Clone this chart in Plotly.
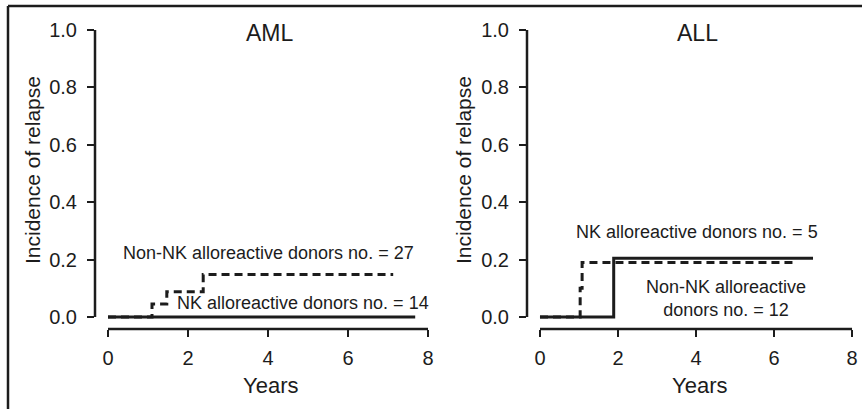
import plotly.graph_objects as go

# ---- data ----
aml_nk_x = [0, 7.68]
aml_nk_y = [0, 0]
aml_non_x = [0, 1.10, 1.47, 2.38, 7.13]
aml_non_y = [0, 0.045, 0.088, 0.148, 0.148]

all_nk_x = [0, 1.89, 7.0]
all_nk_y = [0, 0.205, 0.205]
all_non_x = [0, 1.03, 1.08, 6.52]
all_non_y = [0, 0.10, 0.19, 0.19]

x_ticks = [0, 2, 4, 6, 8]
y_ticks = [0.0, 0.2, 0.4, 0.6, 0.8, 1.0]
y_ticklabels = ["0.0", "0.2", "0.4", "0.6", "0.8", "1.0"]

W, H = 862, 409
INK = "#1c1c1c"
FONT = "Liberation Sans, Arial, Helvetica, sans-serif"
NARROW = "Liberation Sans Narrow, Liberation Sans, Arial, sans-serif"

def px(x):
    return x / W

def py(y):
    return 1 - y / H

fig = go.Figure()

solid = dict(color=INK, width=3)
dashed = dict(color=INK, width=3, dash="8px,5px")

fig.add_trace(go.Scatter(x=aml_nk_x, y=aml_nk_y, mode="lines", line=solid, line_shape="hv",
                         xaxis="x", yaxis="y", showlegend=False))
fig.add_trace(go.Scatter(x=aml_non_x, y=aml_non_y, mode="lines", line=dashed, line_shape="hv",
                         xaxis="x", yaxis="y", showlegend=False))
fig.add_trace(go.Scatter(x=all_nk_x, y=all_nk_y, mode="lines", line=solid, line_shape="hv",
                         xaxis="x2", yaxis="y2", showlegend=False))
fig.add_trace(go.Scatter(x=all_non_x, y=all_non_y, mode="lines", line=dashed, line_shape="hv",
                         xaxis="x2", yaxis="y2", showlegend=False))

ydom = [py(329), py(18)]
yrange = [-0.0418, 1.0418]

xcommon = dict(showline=False, showgrid=False, zeroline=False, ticks="outside", ticklen=7,
               tickwidth=2, tickcolor=INK, tickvals=x_ticks,
               tickfont=dict(family=FONT, size=20, color=INK), ticklabelstandoff=4)
ycommon = dict(showline=False, showgrid=False, zeroline=False, ticks="outside", ticklen=7,
               tickwidth=2, tickcolor=INK, tickvals=y_ticks, ticktext=y_ticklabels,
               tickfont=dict(family=FONT, size=20, color=INK), ticklabelstandoff=6,
               domain=ydom, range=yrange)

fig.update_layout(
    width=W, height=H,
    margin=dict(l=0, r=0, t=0, b=0),
    paper_bgcolor="white", plot_bgcolor="white",
    xaxis=dict(domain=[px(95), px(441)], range=[-0.325, 8.325], anchor="y", **xcommon),
    yaxis=dict(anchor="x", **ycommon),
    xaxis2=dict(domain=[px(527), 1.0], range=[-0.333, 8.256], anchor="y2", **xcommon),
    yaxis2=dict(anchor="x2", **ycommon),
)

shapes = []
# axis lines (R style, spanning only the tick range)
for xr, yr, xl in (("x", "y", px(95)), ("x2", "y2", px(527))):
    shapes.append(dict(type="line", xref=xr, yref="paper", x0=x_ticks[0], x1=x_ticks[-1],
                       y0=py(329), y1=py(329), line=dict(color=INK, width=2.5)))
    shapes.append(dict(type="line", xref="paper", yref=yr, x0=xl, x1=xl,
                       y0=y_ticks[0], y1=y_ticks[-1], line=dict(color=INK, width=2.5)))
# outer frame (top and left edges)
shapes.append(dict(type="line", xref="paper", yref="paper", x0=px(8), x1=1.0, y0=py(6), y1=py(6),
                   line=dict(color=INK, width=2.5)))
shapes.append(dict(type="line", xref="paper", yref="paper", x0=px(8), x1=px(8), y0=py(6), y1=0,
                   line=dict(color=INK, width=2.5)))
fig.update_layout(shapes=shapes)

ann = []
def txt(text, x, y, xref, yref, size=18, family=FONT, xanchor="center", angle=0):
    ann.append(dict(text=text, x=x, y=y, xref=xref, yref=yref, showarrow=False,
                    xanchor=xanchor, yanchor="middle", textangle=angle,
                    font=dict(family=family, size=size, color=INK)))

txt("AML", 4.05, 0.99, "x", "y", size=23)
txt("Non-NK alloreactive donors no. = 27", 4.0, 0.223, "x", "y")
txt("NK alloreactive donors no. = 14", 1.675, 0.049, "x", "y", xanchor="left")
txt("ALL", 4.03, 0.99, "x2", "y2", size=23)
txt("NK alloreactive donors no. = 5", 4.03, 0.296, "x2", "y2")
txt("Non-NK alloreactive<br>donors no. = 12", 4.77, 0.064, "x2", "y2")

for xc in (32, 463):
    txt("Incidence of relapse", px(xc), py(170), "paper", "paper", size=21, family=NARROW, angle=-90)
for xc in (270, 699):
    txt("Years", px(xc), py(385), "paper", "paper", size=22, family=NARROW)
fig.update_layout(annotations=ann)

fig.write_html("out.html", config={"displayModeBar": False},
               post_script="document.body.style.margin='0';")
